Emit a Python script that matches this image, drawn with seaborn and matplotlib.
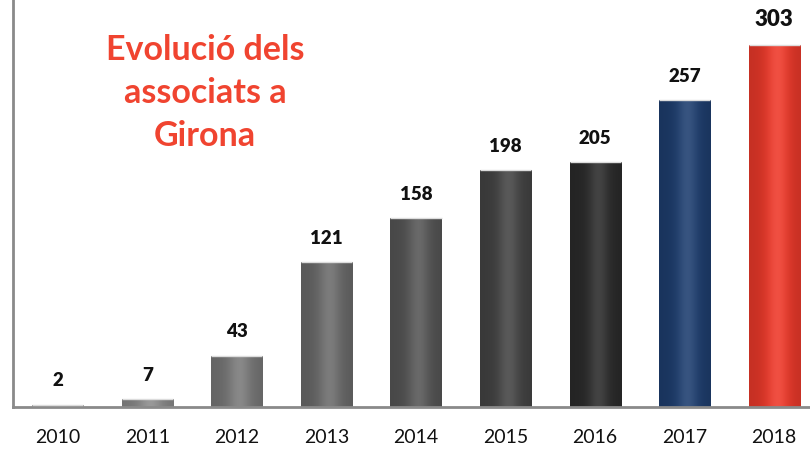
import numpy as np
import pandas as pd
import matplotlib
matplotlib.use("Agg")
import matplotlib.pyplot as plt
import matplotlib.colors as mcolors
import seaborn as sns

years = ["2010", "2011", "2012", "2013", "2014", "2015", "2016", "2017", "2018"]
members = [2, 7, 43, 121, 158, 198, 205, 257, 303]
bar_colors = ["#9a9a9a", "#8c8c8c", "#7a7a7a", "#6c6c6c", "#575757",
              "#454545", "#2c2c2c", "#1f3f70", "#ee3a2b"]
title_text = "Evolució dels\nassociats a\nGirona"

sns.set_theme(style="white")
plt.rcParams["font.family"] = ["Lato", "DejaVu Sans"]

df = pd.DataFrame({"year": years, "members": members})

fig = plt.figure(figsize=(8.1, 4.5), dpi=100)
ax = fig.add_axes([13 / 810, 43 / 450, 806 / 810, 407 / 450])

sns.barplot(data=df, x="year", y="members", hue="year", palette=bar_colors,
            legend=False, width=0.57, ax=ax, saturation=1)

ax.set_ylim(0, 340.5)
ax.set_xlim(-0.5, 8.5)


def shade(base, n=256):
    """Cylinder-like horizontal shading: darker edges, highlight right of centre."""
    rgb = np.array(mcolors.to_rgb(base))
    t = np.linspace(0, 1, n)
    light = 0.55 + 0.45 * np.exp(-((t - 0.55) / 0.28) ** 2)
    light = light / light.max()
    dark = 0.62 + 0.38 * light
    cols = np.clip(rgb[None, :] * dark[:, None], 0, 1)
    # brighten the highlight band slightly toward white
    boost = 0.18 * np.exp(-((t - 0.55) / 0.18) ** 2)
    cols = np.clip(cols + boost[:, None] * (1 - cols) * 0.6, 0, 1)
    return cols[None, :, :]


for patch, col in zip(ax.patches, bar_colors):
    x0, y0 = patch.get_x(), patch.get_y()
    w, h = patch.get_width(), patch.get_height()
    img = ax.imshow(shade(col), extent=[x0, x0 + w, y0, y0 + h],
                    aspect="auto", zorder=2, interpolation="bicubic")
    img.set_clip_path(patch)
    patch.set_facecolor("none")
    patch.set_edgecolor("none")
    # subtle light rim at the top of each bar
    ax.plot([x0, x0 + w], [y0 + h, y0 + h], color="#dcdcdc", lw=1.0,
            zorder=3, solid_capstyle="butt")

for i, v in enumerate(members):
    last = i == len(members) - 1
    ax.annotate(str(v), xy=(i, v), xytext=(0, 17 if not last else 18),
                textcoords="offset points", ha="center", va="center",
                fontsize=16 if last else 13.5, fontweight="heavy",
                color="#111111")

ax.text(192 / 806, 1 - 93 / 407, title_text, transform=ax.transAxes,
        ha="center", va="center", fontsize=24.5, fontweight="bold",
        color="#f04430", linespacing=1.42)

ax.set_xlabel("")
ax.set_ylabel("")
ax.set_yticks([])
ax.tick_params(axis="x", length=0, pad=16, labelsize=14, labelcolor="#111111")

for side in ("top", "right"):
    ax.spines[side].set_visible(False)
ax.spines["left"].set_color("#8a8a8a")
ax.spines["left"].set_linewidth(2)
ax.spines["bottom"].set_color("#8a8a8a")
ax.spines["bottom"].set_linewidth(2)

fig.savefig("out.png", dpi=100, facecolor="white")
